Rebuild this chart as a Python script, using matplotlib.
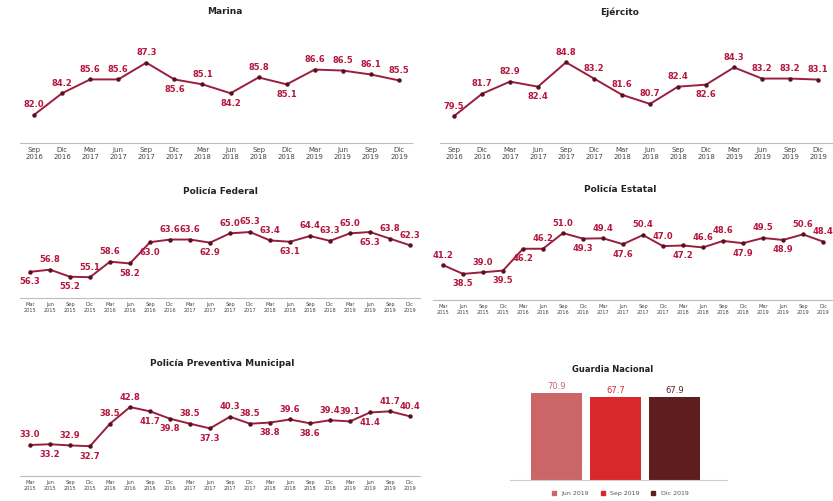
import matplotlib
matplotlib.use("Agg")
import matplotlib.pyplot as plt

# ---- data ----
trim_16_19 = ["Sep\n2016", "Dic\n2016", "Mar\n2017", "Jun\n2017", "Sep\n2017", "Dic\n2017", "Mar\n2018",
              "Jun\n2018", "Sep\n2018", "Dic\n2018", "Mar\n2019", "Jun\n2019", "Sep\n2019", "Dic\n2019"]
trim_15_19 = ["Mar\n2015", "Jun\n2015", "Sep\n2015", "Dic\n2015", "Mar\n2016", "Jun\n2016", "Sep\n2016",
              "Dic\n2016", "Mar\n2017", "Jun\n2017", "Sep\n2017", "Dic\n2017", "Mar\n2018", "Jun\n2018",
              "Sep\n2018", "Dic\n2018", "Mar\n2019", "Jun\n2019", "Sep\n2019", "Dic\n2019"]

marina = [82.0, 84.2, 85.6, 85.6, 87.3, 85.6, 85.1, 84.2, 85.8, 85.1, 86.6, 86.5, 86.1, 85.5]
ejercito = [79.5, 81.7, 82.9, 82.4, 84.8, 83.2, 81.6, 80.7, 82.4, 82.6, 84.3, 83.2, 83.2, 83.1]
federal = [56.3, 56.8, 55.2, 55.1, 58.6, 58.2, 63.0, 63.6, 63.6, 62.9, 65.0, 65.3, 63.4, 63.1,
           64.4, 63.3, 65.0, 65.3, 63.8, 62.3]
estatal = [41.2, 38.5, 39.0, 39.5, 46.2, 46.2, 51.0, 49.3, 49.4, 47.6, 50.4, 47.0, 47.2, 46.6,
           48.6, 47.9, 49.5, 48.9, 50.6, 48.4]
municipal = [33.0, 33.2, 32.9, 32.7, 38.5, 42.8, 41.7, 39.8, 38.5, 37.3, 40.3, 38.5, 38.8, 39.6,
             38.6, 39.4, 39.1, 41.4, 41.7, 40.4]

gn_labels = ["Jun 2019", "Sep 2019", "Dic 2019"]
gn_values = [70.9, 67.7, 67.9]

# ---- style ----
W, H = 833, 501
LINE = "#9a1f3e"
LAB = "#b3163e"
GN_COLORS = ["#cc6666", "#d8282c", "#5e1d1f"]

fig = plt.figure(figsize=(W / 100, H / 100), dpi=100)


def px_axes(x0, y0, x1, y1):
    # axes from pixel box (top-left origin)
    return fig.add_axes([x0 / W, 1 - y1 / H, (x1 - x0) / W, (y1 - y0) / H])


def line_panel(box, title, tpos, labels, vals, ylim, where, tfs, lfs):
    ax = px_axes(*box)
    xs = range(len(vals))
    ax.plot(xs, vals, color=LINE, lw=1.4, marker="o", ms=2.2, mfc="#5a1020", mec="#5a1020")
    for x, v, w in zip(xs, vals, where):
        dy = 4 if w == "a" else -4
        va = "bottom" if w == "a" else "top"
        ax.annotate(f"{v:.1f}", (x, v), xytext=(0, dy), textcoords="offset points",
                    ha="center", va=va, fontsize=lfs, color=LAB, fontweight="bold")
    ax.set_xlim(-0.5, len(vals) - 0.5)
    ax.set_ylim(*ylim)
    ax.set_xticks(list(xs))
    ax.set_xticklabels(labels, fontsize=tfs, color="#444444", linespacing=1.1)
    ax.tick_params(axis="x", length=0, pad=3)
    ax.set_yticks([])
    for s in ["top", "right", "left"]:
        ax.spines[s].set_visible(False)
    ax.spines["bottom"].set_color("#bdbdbd")
    ax.spines["bottom"].set_linestyle((0, (1, 1)))
    ax.spines["bottom"].set_linewidth(0.8)
    fig.text(tpos[0] / W, 1 - tpos[1] / H, title, ha="center", va="center",
             fontsize=6.5, fontweight="bold", color="#222222")
    return ax


line_panel((20, 40, 413, 143), "Marina", (225, 12), trim_16_19, marina, (79.15, 89.6),
           ["a", "a", "a", "a", "a", "b", "a", "b", "a", "b", "a", "a", "a", "a"], 5, 6)
line_panel((440, 40, 832, 143), "Ejército", (620, 12), trim_16_19, ejercito, (76.85, 87.0),
           ["a", "a", "a", "b", "a", "a", "a", "a", "a", "b", "a", "a", "a", "a"], 5, 6)
line_panel((20, 205, 420, 298), "Policía Federal", (220, 191), trim_15_19, federal, (50.4, 71.4),
           ["b", "a", "b", "a", "a", "b", "b", "a", "a", "b", "a", "a", "a", "b", "a", "a", "a",
            "b", "a", "a"], 3.6, 6)
line_panel((433, 205, 833, 300), "Policía Estatal", (620, 190), trim_15_19, estatal, (30.5, 59.6),
           ["a", "b", "a", "b", "b", "a", "a", "b", "a", "b", "a", "a", "b", "a", "a", "b", "a",
            "b", "a", "a"], 3.6, 6)
line_panel((20, 385, 420, 476), "Policía Preventiva Municipal", (222, 363), trim_15_19, municipal,
           (25.0, 48.5),
           ["a", "b", "a", "b", "a", "a", "b", "b", "a", "b", "a", "a", "b", "a", "b", "a", "a",
            "b", "a", "a"], 3.6, 6)

# Guardia Nacional
ax = px_axes(510, 370, 727, 480)
bars = ax.bar(range(3), gn_values, width=0.87, color=GN_COLORS, label=gn_labels)
for b, v, c in zip(bars, gn_values, GN_COLORS):
    ax.text(b.get_x() + b.get_width() / 2, v + 1.5, f"{v:.1f}", ha="center", va="bottom",
            fontsize=6, color=c)
ax.set_xlim(-0.8, 2.9)
ax.set_ylim(0, 89.6)
ax.set_xticks([])
ax.set_yticks([])
for s in ["top", "right", "left"]:
    ax.spines[s].set_visible(False)
ax.spines["bottom"].set_color("#cccccc")
ax.spines["bottom"].set_linewidth(0.8)
fig.text(613 / W, 1 - 369 / H, "Guardia Nacional", ha="center", va="center",
         fontsize=6, fontweight="bold", color="#222222")
handles = [plt.Line2D([], [], marker="s", ls="", color=c, ms=3) for c in GN_COLORS]
fig.legend(handles, gn_labels, loc="center", bbox_to_anchor=(618 / W, 1 - 493 / H), ncol=3,
           frameon=False, fontsize=4.5, handletextpad=0.2, columnspacing=1.2,
           labelcolor="#555555")

fig.savefig("out.png", dpi=100, facecolor="white")
